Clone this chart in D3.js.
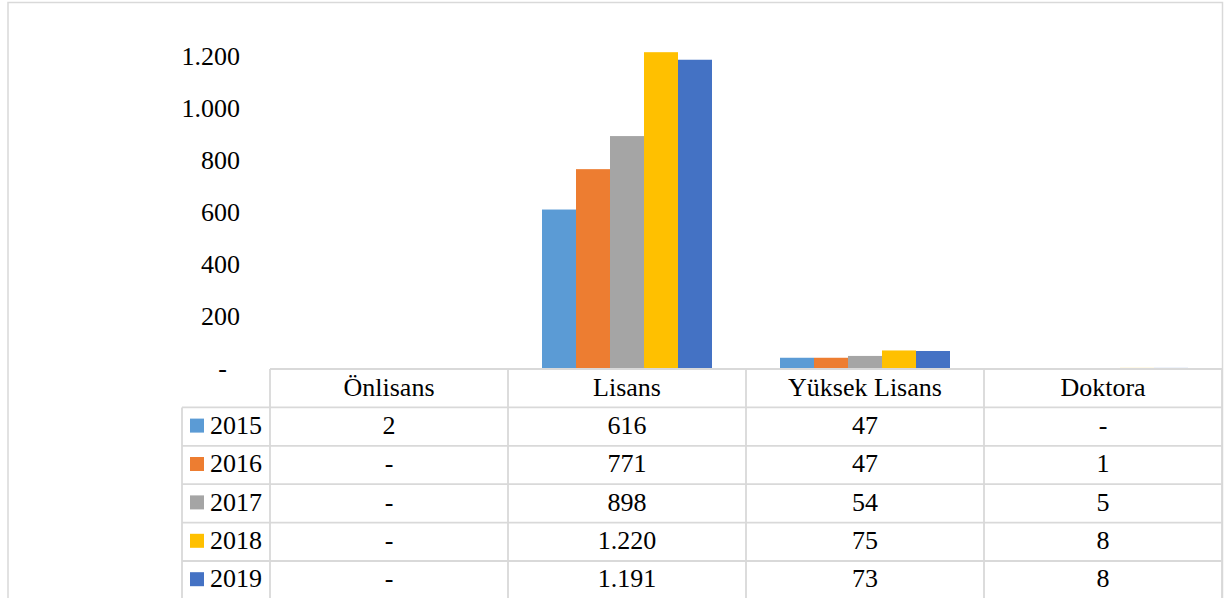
<!DOCTYPE html>
<html>
<head>
<meta charset="utf-8">
<script src="https://cdn.jsdelivr.net/npm/d3@7.9.0/dist/d3.min.js"></script>
<style>
  body { margin: 0; background: #fff; }
  svg { display: block; font-family: "Liberation Serif", "Times New Roman", serif; }
</style>
</head>
<body>
<svg id="chart" width="1224" height="598"></svg>
<script>
const categories = ['Önlisans', 'Lisans', 'Yüksek Lisans', 'Doktora'];
const years = ['2015', '2016', '2017', '2018', '2019'];
const colors = ['#5B9BD5', '#ED7D31', '#A5A5A5', '#FFC000', '#4472C4'];
const values2015 = [2, 616, 47, 0];
const values2016 = [0, 771, 47, 1];
const values2017 = [0, 898, 54, 5];
const values2018 = [0, 1220, 75, 8];
const values2019 = [0, 1191, 73, 8];
const yTicks = [0, 200, 400, 600, 800, 1000, 1200];

const series = [values2015, values2016, values2017, values2018, values2019]
  .map((vals, i) => ({ year: years[i], color: colors[i], vals }));

const svg = d3.select('#chart');
const gridColor = '#d9d9d9';
const fontSize = 26;

// number format like the Excel accounting style: 1.220, zero -> "-"
const trLocale = d3.formatLocale({ decimal: ',', thousands: '.', grouping: [3], currency: ['', ''] });
const fmt = v => v === 0 ? '-' : trLocale.format(',d')(v);

const plotLeft = 270, plotRight = 1222, baseY = 370;
const x = d3.scaleBand().domain(categories).range([plotLeft, plotRight]);
const xSub = d3.scaleBand().domain(years).range([0, x.bandwidth()]).paddingInner(0).paddingOuter(1);
const y = d3.scaleLinear().domain([0, 1400]).range([baseY, baseY - 1400 * 0.2605]);

// outer chart border
svg.append('rect')
  .attr('x', 8).attr('y', 2.5)
  .attr('width', 1214.5).attr('height', 620)
  .attr('fill', 'none').attr('stroke', gridColor).attr('stroke-width', 1.5);

// y axis labels
svg.append('g').selectAll('text')
  .data(yTicks)
  .join('text')
    .attr('x', 240)
    .attr('y', d => y(d))
    .attr('dy', '0.28em')
    .attr('text-anchor', 'end')
    .attr('font-size', fontSize)
    .attr('fill', '#000')
    .text(d => d === 0 ? '-\u2002' : fmt(d));

// bars
const groups = svg.append('g').selectAll('g')
  .data(series)
  .join('g')
    .attr('fill', d => d.color);

groups.selectAll('rect')
  .data(d => d.vals.map((v, i) => ({ cat: categories[i], year: d.year, v })))
  .join('rect')
    .attr('x', d => x(d.cat) + xSub(d.year))
    .attr('width', xSub.bandwidth())
    .attr('y', d => y(d.v))
    .attr('height', d => y(0) - y(d.v));

// data table
const headTop = 369, rowH = 38.4, legendLeft = 182;
const table = svg.append('g').attr('stroke', gridColor).attr('stroke-width', 1.8);

table.append('line')
  .attr('x1', plotLeft).attr('x2', plotRight)
  .attr('y1', headTop).attr('y2', headTop);

table.selectAll('line.row')
  .data(d3.range(1, years.length + 2))
  .join('line')
    .attr('class', 'row')
    .attr('x1', legendLeft).attr('x2', plotRight)
    .attr('y1', i => headTop + i * rowH).attr('y2', i => headTop + i * rowH);

table.append('line')
  .attr('x1', legendLeft).attr('x2', legendLeft)
  .attr('y1', headTop + rowH).attr('y2', 620);

table.selectAll('line.col')
  .data(categories.map(c => x(c)).concat(plotRight))
  .join('line')
    .attr('class', 'col')
    .attr('x1', d => d).attr('x2', d => d)
    .attr('y1', headTop).attr('y2', 620);

// header labels
svg.append('g').selectAll('text')
  .data(categories)
  .join('text')
    .attr('x', d => x(d) + x.bandwidth() / 2)
    .attr('y', headTop + rowH / 2)
    .attr('dy', '0.3em')
    .attr('text-anchor', 'middle')
    .attr('font-size', fontSize)
    .text(d => d);

// rows: legend key + values
const rows = svg.append('g').selectAll('g')
  .data(series)
  .join('g')
    .attr('transform', (d, i) => `translate(0,${headTop + (i + 1) * rowH + rowH / 2})`);

rows.append('rect')
  .attr('x', 190).attr('y', -8)
  .attr('width', 14).attr('height', 14)
  .attr('fill', d => d.color);

rows.append('text')
  .attr('x', 210)
  .attr('dy', '0.28em')
  .attr('font-size', fontSize)
  .text(d => d.year);

rows.selectAll('text.val')
  .data(d => d.vals.map((v, i) => ({ cat: categories[i], v })))
  .join('text')
    .attr('class', 'val')
    .attr('x', d => x(d.cat) + x.bandwidth() / 2)
    .attr('dy', '0.28em')
    .attr('text-anchor', 'middle')
    .attr('font-size', fontSize)
    .text(d => fmt(d.v));
</script>
</body>
</html>
